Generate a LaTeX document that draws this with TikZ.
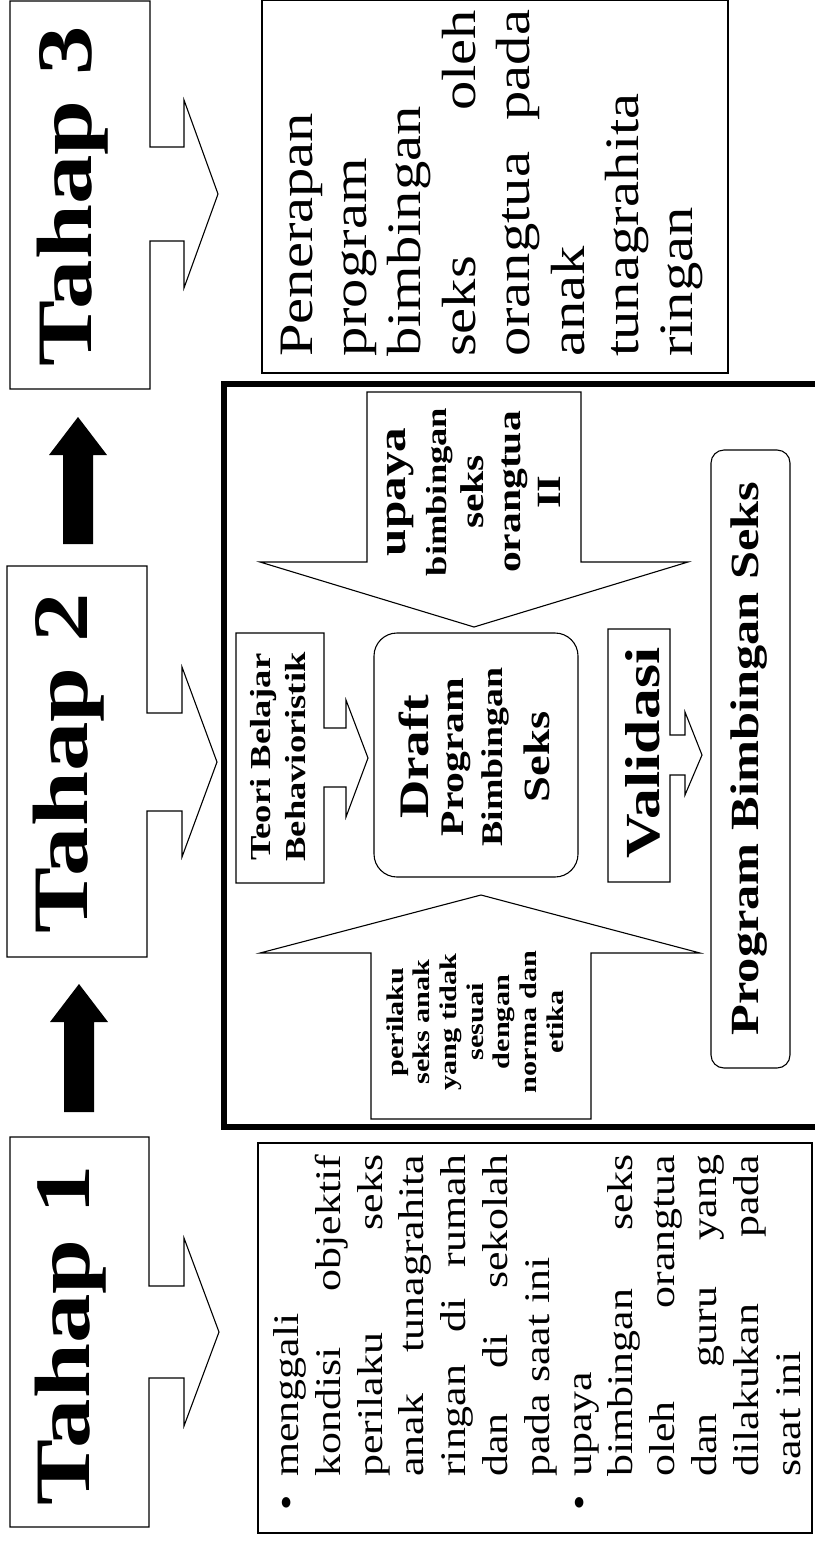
\documentclass[tikz,border=0pt]{standalone}
\usepackage{fontspec}
\setmainfont{Liberation Serif}[FakeStretch=1.26]
\newfontfamily\bodyfont{Liberation Serif}[FakeStretch=1.22]
\usetikzlibrary{calc}
\newcommand{\fsz}[1]{\fontsize{#1}{#1}\selectfont}
\begin{document}
\begin{tikzpicture}[x=1pt,y=-1pt,line join=miter,
  ln/.style={draw=black,line width=1.1pt},
  tbox/.style={draw=black,line width=1.1pt,inner sep=0pt},
  txt/.style={inner sep=0pt,rotate=90,anchor=base},
  blk/.style={fill=black},
  frame/.style={draw=black,line width=6pt}]
\useasboundingbox (0,0) rectangle (814,1542);

% ---------- Tahap callouts ----------
\draw[ln] (10,1) -- (150,1) -- (150,147) -- (184,147) -- (184,100) -- (218,194) -- (184,288) -- (184,241) -- (150,241) -- (150,389) -- (10,389) -- cycle;
\draw[ln] (7,566) -- (147,566) -- (147,713) -- (182,713) -- (182,667) -- (217,762) -- (182,857) -- (182,811) -- (147,811) -- (147,957) -- (7,957) -- cycle;
\draw[ln] (10,1137) -- (149,1137) -- (149,1286) -- (184,1286) -- (184,1238) -- (219,1332) -- (184,1426) -- (184,1378) -- (149,1378) -- (149,1527) -- (10,1527) -- cycle;

\node[txt,font=\bfseries\fsz{78.5}] (h3) at (91,196) {Tahap 3};
\node[txt,font=\bfseries\fsz{78.5}] (h2) at (87,763) {Tahap 2};
\node[txt,font=\bfseries\fsz{78.5}] (h1) at (89,1335) {Tahap 1};

% ---------- black block arrows ----------
\coordinate (a12s) at (79,1112);
\coordinate (a12e) at (79,984);
\fill[blk] (a12s) ++(-15,0) -- ++(0,-90) -- ++(-14,0) -- (a12e) -- ++(29,38) -- ++(-14,0) -- ++(0,90) -- cycle;
\coordinate (a23s) at (78,544);
\coordinate (a23e) at (78,417);
\fill[blk] (a23s) ++(-15,0) -- ++(0,-89) -- ++(-14,0) -- (a23e) -- ++(29,38) -- ++(-14,0) -- ++(0,89) -- cycle;

% ---------- Tahap 3 text ----------
\node[tbox,minimum width=466pt,minimum height=373pt] (b3) at (495,186.5) {};
\node[inner sep=0pt,rotate=90,anchor=base west] (p3) at (312,357) {\parbox[t]{347pt}{\bodyfont\fontsize{48}{54.4}\selectfont
\leavevmode Penerapan\\
program\\
bimbingan\\
\makebox[\linewidth][s]{seks oleh}\\
\makebox[\linewidth][s]{orangtua pada}\\
anak\\
tunagrahita\\
ringan}};

% ---------- Tahap 1 text ----------
\node[tbox,minimum width=554pt,minimum height=390pt] (b1) at (535,1338) {};
\node[inner sep=0pt,rotate=90,anchor=base west] (p1) at (298.5,1477) {\parbox[t]{322pt}{\bodyfont\fontsize{36}{41.8}\selectfont
\leavevmode\llap{\textbullet\hspace{18pt}}menggali\\
\makebox[\linewidth][s]{kondisi objektif}\\
\makebox[\linewidth][s]{perilaku seks}\\
\makebox[\linewidth][s]{anak tunagrahita}\\
\makebox[\linewidth][s]{ringan di rumah}\\
\makebox[\linewidth][s]{dan di sekolah}\\
pada saat ini\\
\llap{\textbullet\hspace{18pt}}upaya\\
\makebox[\linewidth][s]{bimbingan seks}\\
\makebox[\linewidth][s]{oleh orangtua}\\
\makebox[\linewidth][s]{dan guru yang}\\
\makebox[\linewidth][s]{dilakukan pada}\\
saat ini}};

% ---------- Tahap 2 frame ----------
\draw[frame] (223.5,383.5) rectangle (850,1127);

% upper hollow arrow
\draw[ln] (367,392) -- (581,392) -- (581,562) -- (688,562) -- (474,627) -- (260,562) -- (367,562) -- cycle;
\node[txt,font=\bfseries\fsz{39}] (u1) at (405,492) {upaya};
\node[txt,font=\bfseries\fsz{29}] (u2) at (446,492) {bimbingan};
\node[txt,font=\bfseries\fsz{33}] (u3) at (483,492) {seks};
\node[txt,font=\bfseries\fsz{33}] (u4) at (520,492) {orangtua};
\node[txt,font=\bfseries\fsz{34}] (u5) at (560,492) {II};

% lower hollow arrow
\draw[ln] (371,1119) -- (371,953) -- (260,953) -- (481,895) -- (700,953) -- (591,953) -- (591,1119) -- cycle;
\node[txt,font=\bfseries\fsz{24}] (l1) at (403,1022) {perilaku};
\node[txt,font=\bfseries\fsz{24}] (l2) at (429.7,1022) {seks anak};
\node[txt,font=\bfseries\fsz{24}] (l3) at (456.4,1022) {yang tidak};
\node[txt,font=\bfseries\fsz{24}] (l4) at (483.1,1022) {sesuai};
\node[txt,font=\bfseries\fsz{24}] (l5) at (509.8,1022) {dengan};
\node[txt,font=\bfseries\fsz{24}] (l6) at (536.5,1022) {norma dan};
\node[txt,font=\bfseries\fsz{24}] (l7) at (563.2,1022) {etika};

% Teori callout
\draw[ln] (236,633) -- (324,633) -- (324,728) -- (346,728) -- (346,700) -- (368,758) -- (346,817) -- (346,787) -- (324,787) -- (324,883) -- (236,883) -- cycle;
\node[txt,font=\bfseries\fsz{29}] (t1) at (270,757) {Teori Belajar};
\node[txt,font=\bfseries\fsz{29}] (t2) at (305,757) {Behavioristik};

% Draft box
\node[tbox,rounded corners=23pt,minimum width=204pt,minimum height=244pt] (draft) at (476,755) {};
\node[txt,font=\bfseries\fsz{42}] (d1) at (428,757) {Draft};
\node[txt,font=\bfseries\fsz{33}] (d2) at (463,757) {Program};
\node[txt,font=\bfseries\fsz{30}] (d3) at (502,757) {Bimbingan};
\node[txt,font=\bfseries\fsz{37}] (d4) at (549,757) {Seks};

% Validasi callout
\draw[ln] (608,629) -- (670,629) -- (670,735) -- (685,735) -- (685,712) -- (702,755) -- (685,795) -- (685,775) -- (670,775) -- (670,882) -- (608,882) -- cycle;
\node[txt,font=\bfseries\fsz{49}] (v1) at (659,753) {Validasi};

% Program box
\node[tbox,rounded corners=13pt,minimum width=79pt,minimum height=618pt] (prog) at (750.5,759) {};
\node[txt,font=\bfseries\fsz{40}] (pg) at (758,758.5) {Program Bimbingan Seks};
\end{tikzpicture}
\end{document}
